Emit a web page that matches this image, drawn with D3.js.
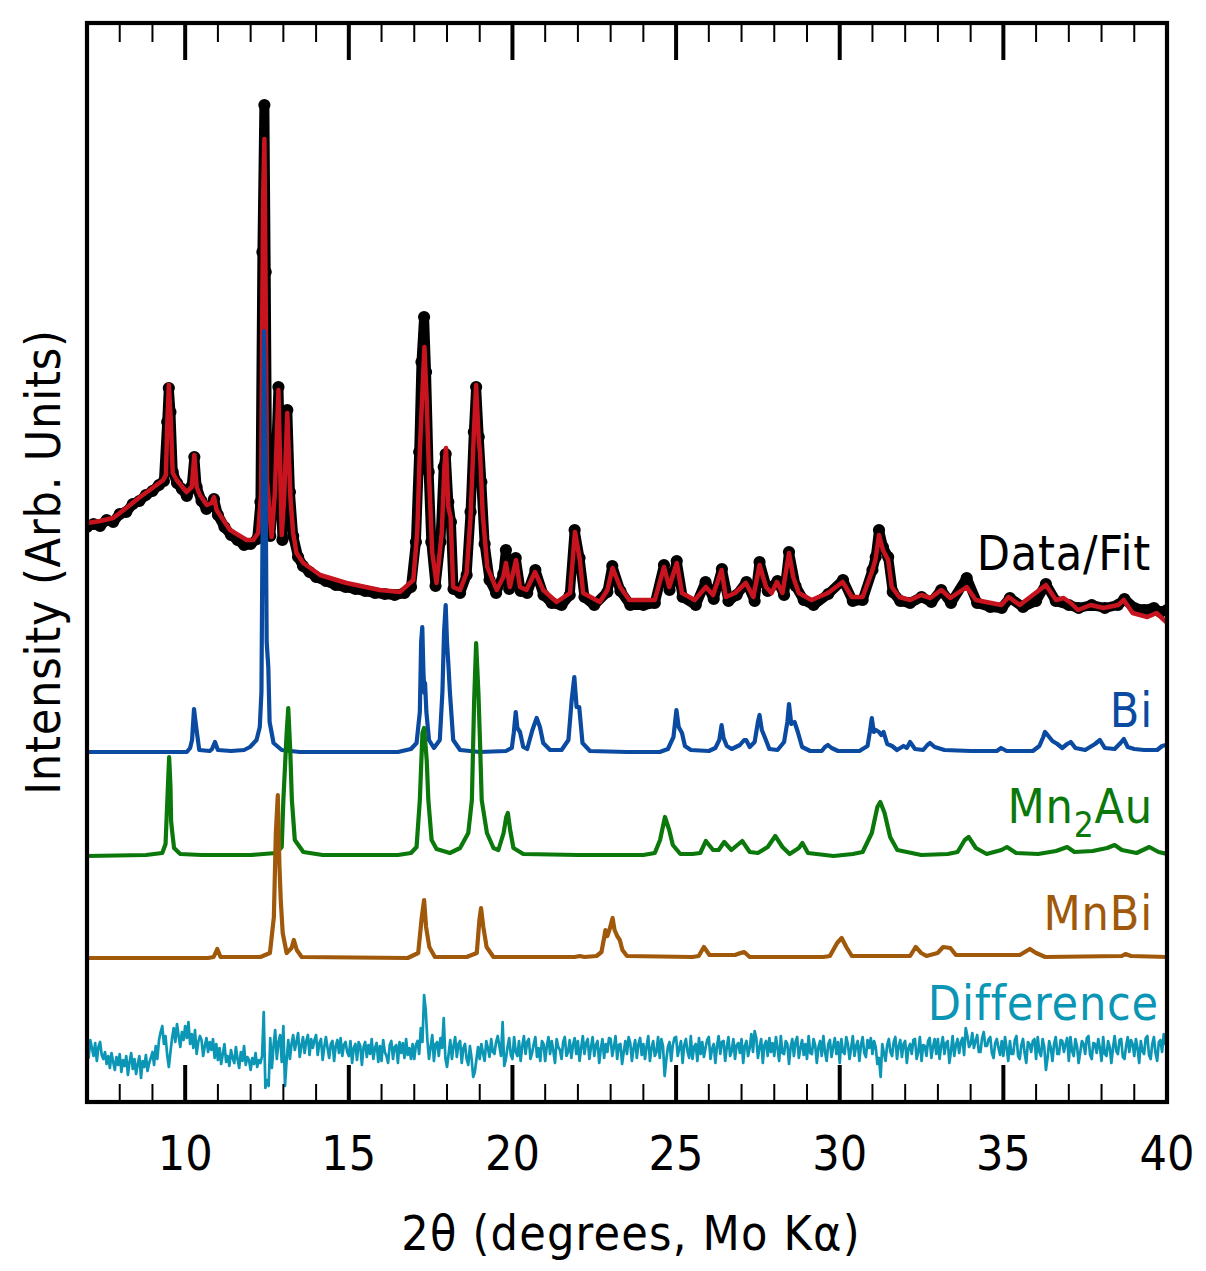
<!DOCTYPE html>
<html><head><meta charset="utf-8">
<script src="https://cdn.jsdelivr.net/npm/d3@7/dist/d3.min.js"></script>
<style>
body{margin:0;background:#fff}
svg{display:block}
text{font-family:"DejaVu Sans Condensed","DejaVu Sans",sans-serif;font-stretch:condensed}
</style>
</head><body>
<svg id="chart" width="1206" height="1271"></svg>
<script>
// ---------- axis / tick data ----------
const xDomain = [7, 40];
const xMajorTicks = [10, 15, 20, 25, 30, 35, 40];
const xMinorTicks = [8, 9, 11, 12, 13, 14, 16, 17, 18, 19, 21, 22, 23, 24, 26, 27, 28, 29, 31, 32, 33, 34, 36, 37, 38, 39];
const xTitle = "2θ (degrees, Mo Kα)";
const yTitle = "Intensity (Arb. Units)";

// ---------- series labels and vertical offsets (arb. units) ----------
const seriesNames = ["Data/Fit", "Bi", "Mn2Au", "MnBi", "Difference"];
const phaseOffsets = { Bi: 350, Mn2Au: 246, MnBi: 144, Difference: 52 };

// ---------- observed data [2θ, intensity] ----------
const dataPts = [[7.0,575],[7.2,578],[7.4,576],[7.6,582],[7.8,580],[8.0,588],[8.2,590],[8.4,598],[8.6,601],[8.8,607],[9.0,611],[9.2,617],[9.35,621],[9.45,680],[9.5,714],[9.55,690],[9.62,630],[9.75,619],[9.9,613],[10.05,606],[10.2,616],[10.28,645],[10.35,615],[10.5,601],[10.65,593],[10.8,596],[10.88,603],[11.0,587],[11.2,575],[11.4,567],[11.6,562],[11.8,557],[12.0,558],[12.2,563],[12.3,600],[12.36,850],[12.42,997],[12.46,830],[12.5,640],[12.6,566],[12.75,620],[12.85,715],[12.92,620],[12.97,562],[13.05,620],[13.12,692],[13.2,610],[13.3,566],[13.45,545],[13.6,536],[13.8,530],[14.0,525],[14.3,521],[14.6,517],[14.9,515],[15.2,513],[15.5,511],[15.8,509],[16.1,508],[16.4,507],[16.7,509],[16.9,515],[17.05,560],[17.15,650],[17.22,740],[17.30,785],[17.36,730],[17.44,630],[17.52,560],[17.65,516],[17.8,560],[17.9,635],[17.96,648],[18.04,600],[18.12,580],[18.2,513],[18.4,509],[18.6,527],[18.72,590],[18.82,670],[18.89,715],[18.97,665],[19.05,620],[19.15,558],[19.3,522],[19.5,509],[19.72,528],[19.8,552],[19.9,513],[20.1,544],[20.25,511],[20.45,509],[20.7,532],[20.95,507],[21.2,499],[21.5,497],[21.75,507],[21.9,572],[22.05,544],[22.2,505],[22.5,497],[22.9,510],[23.05,536],[23.3,511],[23.6,497],[24.0,497],[24.35,499],[24.63,537],[24.8,512],[25.02,541],[25.2,505],[25.6,497],[25.9,520],[26.15,503],[26.4,533],[26.6,501],[26.85,507],[27.15,520],[27.4,501],[27.55,540],[27.8,511],[28.1,521],[28.3,507],[28.45,550],[28.65,516],[28.9,502],[29.2,497],[29.65,508],[30.1,522],[30.4,501],[30.7,502],[31.0,532],[31.1,545],[31.2,572],[31.32,555],[31.48,545],[31.62,510],[31.85,501],[32.15,499],[32.5,505],[32.8,500],[33.1,512],[33.4,499],[33.88,524],[34.2,499],[34.6,495],[34.95,494],[35.2,504],[35.6,495],[36.0,501],[36.3,518],[36.6,501],[37.0,497],[37.3,494],[37.7,497],[38.1,494],[38.5,497],[38.7,503],[39.0,494],[39.3,492],[39.6,494],[39.8,490],[40.0,492]];

// ---------- Rietveld fit [2θ, intensity] ----------
const fitPts = [[7.0,579],[7.4,581],[7.8,584],[8.2,594],[8.62,605],[9.0,614],[9.33,622],[9.41,627],[9.45,675],[9.50,717],[9.56,682],[9.62,629],[9.74,622],[10.04,610],[10.20,615],[10.28,647],[10.35,615],[10.45,607],[10.66,597],[10.81,599],[10.88,605],[10.96,592],[11.37,572],[11.88,562],[12.08,562],[12.23,569],[12.32,609],[12.38,902],[12.42,963],[12.46,802],[12.50,622],[12.64,565],[12.74,609],[12.85,712],[12.92,609],[12.95,567],[13.02,602],[13.12,689],[13.22,602],[13.30,569],[13.40,549],[13.61,539],[14.12,527],[14.93,519],[15.95,512],[16.56,510],[16.97,522],[17.09,569],[17.17,652],[17.31,755],[17.38,702],[17.46,619],[17.55,549],[17.68,519],[17.84,569],[17.92,635],[17.97,654],[18.04,595],[18.11,585],[18.19,515],[18.40,512],[18.60,529],[18.72,585],[18.82,669],[18.89,717],[18.97,662],[19.01,649],[19.09,589],[19.23,535],[19.52,512],[19.72,525],[19.80,539],[19.92,515],[20.11,542],[20.23,515],[20.43,512],[20.69,530],[20.94,512],[21.35,500],[21.76,509],[21.91,570],[22.06,542],[22.16,509],[22.67,500],[22.90,512],[23.06,534],[23.29,515],[23.57,502],[24.35,502],[24.63,535],[24.79,515],[25.02,539],[25.18,509],[25.57,502],[25.91,515],[26.13,507],[26.39,532],[26.52,505],[26.80,509],[27.13,519],[27.36,505],[27.55,537],[27.75,515],[27.92,509],[28.08,520],[28.25,509],[28.45,549],[28.58,525],[28.75,509],[29.14,502],[29.64,509],[30.09,520],[30.37,505],[30.70,505],[30.98,530],[31.09,542],[31.20,567],[31.32,552],[31.48,542],[31.59,515],[31.82,505],[32.15,502],[32.49,507],[32.77,504],[33.10,512],[33.38,504],[33.88,515],[34.16,502],[34.94,497],[35.16,505],[35.50,497],[36.30,517],[36.61,502],[36.84,504],[37.06,499],[37.28,492],[37.67,497],[38.06,494],[38.51,497],[38.68,502],[38.95,489],[39.40,485],[39.68,489],[40.01,479]];

// ---------- phase patterns [2θ, intensity above own baseline] ----------
const biPts = [[7.0,0],[10.05,0],[10.15,4],[10.21,12],[10.27,43],[10.31,32],[10.36,19],[10.43,2],[10.75,1],[10.82,3],[10.91,10],[11.0,2],[11.4,1],[11.8,2],[11.98,5],[12.18,12],[12.28,25],[12.33,60],[12.37,250],[12.41,421],[12.45,300],[12.49,110],[12.54,85],[12.58,30],[12.70,9],[12.95,2],[13.5,0],[16.5,0],[16.9,3],[17.07,9],[17.17,40],[17.21,110],[17.245,125],[17.28,80],[17.31,59],[17.33,69],[17.37,40],[17.45,12],[17.60,4],[17.78,12],[17.86,60],[17.91,120],[17.96,147],[18.00,110],[18.04,89],[18.09,59],[18.19,12],[18.40,2],[19.0,0],[19.8,1],[19.98,4],[20.04,19],[20.10,40],[20.15,24],[20.23,20],[20.33,5],[20.45,3],[20.61,22],[20.74,34],[20.84,25],[20.94,9],[21.15,2],[21.5,2],[21.71,12],[21.81,52],[21.89,75],[21.96,45],[22.04,45],[22.14,9],[22.37,1],[23.5,0],[24.5,0],[24.75,3],[24.92,15],[25.01,42],[25.08,25],[25.18,19],[25.27,6],[25.45,2],[26.0,1],[26.2,4],[26.32,12],[26.39,27],[26.45,14],[26.55,6],[26.7,3],[26.95,7],[27.08,12],[27.14,12],[27.25,5],[27.4,10],[27.50,30],[27.55,37],[27.62,22],[27.72,14],[27.85,3],[28.1,2],[28.3,10],[28.40,30],[28.45,48],[28.52,28],[28.62,30],[28.72,20],[28.85,5],[29.1,1],[29.45,1],[29.55,5],[29.64,7],[29.75,4],[29.95,1],[30.6,1],[30.85,6],[30.92,20],[30.98,34],[31.04,20],[31.10,22],[31.20,20],[31.27,17],[31.34,20],[31.45,8],[31.60,6],[31.75,2],[31.95,6],[32.05,4],[32.15,10],[32.3,3],[32.55,2],[32.68,7],[32.76,9],[32.9,5],[33.2,2],[34.0,1],[34.8,1],[34.93,4],[35.1,1],[35.9,1],[36.1,6],[36.22,15],[36.27,20],[36.35,17],[36.5,11],[36.65,8],[36.8,4],[36.95,8],[37.06,10],[37.2,4],[37.5,2],[37.8,8],[37.95,12],[38.1,4],[38.4,3],[38.58,9],[38.68,13],[38.8,5],[39.0,3],[39.3,2],[39.7,2],[39.85,6],[39.97,7],[40,5]];

const mn2auPts = [[7.0,0],[8.8,1],[9.30,3],[9.40,12],[9.46,60],[9.51,99],[9.55,70],[9.57,35],[9.60,25],[9.66,8],[9.85,2],[10.5,1],[12.0,1],[12.78,3],[12.95,9],[13.00,56],[13.10,123],[13.15,148],[13.21,106],[13.26,56],[13.35,16],[13.61,4],[14.2,1],[16.5,1],[16.9,3],[17.07,9],[17.17,56],[17.25,123],[17.30,128],[17.38,96],[17.43,56],[17.53,16],[17.68,7],[18.09,3],[18.40,8],[18.65,23],[18.76,56],[18.83,156],[18.89,213],[18.96,163],[19.01,113],[19.06,56],[19.22,23],[19.42,8],[19.57,6],[19.73,23],[19.81,39],[19.86,43],[19.93,26],[20.03,8],[20.33,2],[22,1],[24.0,1],[24.35,3],[24.51,16],[24.66,39],[24.79,26],[24.90,11],[25.13,2],[25.50,2],[25.74,3],[25.91,15],[26.13,6],[26.30,6],[26.47,14],[26.69,6],[27.02,15],[27.25,4],[27.50,3],[27.80,9],[28.03,20],[28.25,9],[28.47,2],[28.75,8],[28.86,13],[29.03,3],[29.81,0],[30.40,2],[30.70,4],[30.98,23],[31.15,49],[31.24,54],[31.37,43],[31.54,19],[31.76,6],[32.49,1],[33.30,2],[33.60,4],[33.82,16],[33.94,19],[34.16,8],[34.49,2],[34.94,6],[35.11,9],[35.39,3],[36.06,2],[36.61,5],[36.95,9],[37.17,4],[37.73,5],[38.17,8],[38.40,11],[38.62,6],[39.07,3],[39.46,9],[39.74,4],[40.0,2]];

const mnbiPts = [[7.0,0],[10.7,0],[10.87,1],[10.98,9],[11.08,1],[12.3,1],[12.59,5],[12.71,41],[12.77,125],[12.83,163],[12.88,92],[12.92,58],[12.98,25],[13.10,5],[13.25,10],[13.32,18],[13.41,8],[13.56,1],[16.8,0],[17.12,5],[17.23,41],[17.30,58],[17.36,31],[17.46,11],[17.63,1],[18.6,1],[18.91,5],[18.99,38],[19.04,50],[19.11,31],[19.21,11],[19.42,1],[21.9,1],[22.06,2],[22.2,1],[22.57,2],[22.72,6],[22.80,20],[22.84,28],[22.90,22],[22.98,30],[23.06,40],[23.12,28],[23.20,22],[23.28,18],[23.36,8],[23.50,2],[25.5,1],[25.69,2],[25.85,11],[26.02,3],[26.80,3],[26.97,5],[27.08,6],[27.25,1],[29.5,1],[29.70,2],[29.92,15],[30.06,20],[30.20,11],[30.37,2],[32.15,2],[32.32,11],[32.49,5],[32.65,2],[32.99,5],[33.16,11],[33.38,10],[33.55,3],[35.50,3],[35.81,9],[36.00,5],[36.28,1],[38.62,2],[38.73,4],[38.90,2],[40,1]];

// ---------- difference curve: start, step and values (obs - calc), one row per degree ----------
const diffStart = 7.0;
const diffStep = 0.05;
const diffVals = [
 4,-8,10,2,-6,7,-11,3,8,-5,-9,-2,-14,-6,-18,-3,-12,-20,-7,-15,
 -4,-22,-10,-16,-6,-25,-12,-3,-19,-9,-24,-14,-6,-28,-11,-17,-5,-21,-13,-8,
 -2,-15,4,-9,10,18,24,6,14,-5,-17,-2,12,22,8,26,14,3,18,10,
 24,12,28,6,16,2,20,-4,8,14,10,-6,4,12,-2,8,0,11,-8,6,
 -10,2,-14,-4,6,-12,-6,-16,0,-8,-13,3,-9,-18,-2,-11,4,-15,-7,-10,
 -20,-8,-14,-3,-17,-10,-13,-6,38,-38,-30,-36,12,-18,4,20,-9,8,15,-12,
 24,-36,-10,10,-9,6,15,0,8,17,-7,4,13,-3,9,15,-5,11,2,10,
 15,-5,7,11,-10,3,13,2,-8,6,9,-11,4,10,-3,12,-6,5,8,-2,
 -6,9,-13,2,6,-10,8,4,-15,3,8,-7,5,-4,11,-9,2,7,-12,4,
 -11,10,-2,-6,-13,5,9,-9,3,5,-13,8,-3,7,-8,11,-5,2,-9,6,
 -9,5,9,-4,22,8,55,40,10,-9,3,15,-11,6,8,-6,12,2,32,-8,
 -17,-4,10,-9,4,13,-7,6,9,-13,2,6,-9,-15,4,-8,-27,-22,-9,3,
 -9,6,-3,-11,9,2,-7,11,-2,-4,8,14,4,-6,28,-16,-9,3,12,-5,
 -9,13,-2,-6,9,-11,4,14,-4,8,11,-9,-3,6,13,-7,2,-11,9,6,
 -11,4,13,-4,9,-1,-13,11,3,0,-9,8,13,-6,-2,10,-8,5,12,-4,
 9,-11,2,14,-4,7,11,-9,3,13,-6,5,9,-13,1,11,-8,6,-2,12,
 11,-6,3,14,-9,5,6,-14,-2,9,-4,13,7,-11,2,10,-8,6,12,-5,
 6,-9,4,14,-11,2,9,-6,-2,13,-8,11,4,-26,-10,3,8,-11,5,12,
 13,-6,2,9,-13,5,11,-2,-8,14,-9,3,6,-11,12,-4,8,-7,2,10,
 13,-9,1,6,-13,4,14,-4,8,9,-11,3,13,-6,-1,11,-9,5,7,-3,
 11,-13,4,9,-6,2,16,-2,19,12,-8,3,11,-13,5,9,-6,12,-2,7,
 -6,13,2,-11,14,-3,-4,9,6,-14,3,11,-6,8,13,-8,2,10,-5,6,
 -9,14,-3,-4,11,5,-13,3,9,-6,14,-2,-11,6,10,-7,3,12,-4,8,
 -13,11,-2,-4,13,6,-9,2,14,-6,4,9,-11,5,13,-3,-7,10,2,12,
 -4,9,3,-14,-8,-27,6,-3,-11,5,11,-2,-6,8,13,-9,4,10,-7,6,
 9,-13,2,6,-4,10,11,-9,-2,13,-11,5,4,-6,9,12,-8,3,11,-4,
 11,-9,4,13,-4,7,9,-13,-1,14,-6,5,11,-3,8,12,-5,22,14,3,
 6,17,2,9,15,-2,-2,12,18,4,4,11,13,-3,-8,7,11,2,-5,9,
 -6,13,2,-11,9,-4,-4,10,14,-6,-9,5,11,-3,-13,8,6,-2,9,11,
 -9,13,-2,-6,11,3,-20,-8,9,2,-11,6,13,-4,-4,10,9,-2,6,12,
 -11,13,-1,-6,11,4,-13,-2,9,6,-4,12,14,-5,-9,7,6,-3,11,2,
 -11,13,-4,-6,9,3,-13,2,14,-1,-4,10,11,-7,-9,4,13,-2,10,6,
 -6,11,2,-13,9,-1,-4,12,14,-5,-9,6,13,-3,-11,8,10,-2,16,6,
 4];

// ---------- colours ----------
const colors = { data: "#000000", fit: "#c8141e", Bi: "#0a4aa0", Mn2Au: "#0a780a", MnBi: "#a0580a", Difference: "#0a96b4" };

// ================= drawing =================
const W = 1206, H = 1271;
const margin = { left: 87, right: W - 1167, top: 23, bottom: H - 1102 };
const svg = d3.select("#chart");
const x = d3.scaleLinear().domain(xDomain).range([margin.left, W - margin.right]);
const y = d3.scaleLinear().domain([0, 1079]).range([H - margin.bottom, margin.top]);

svg.append("defs").append("clipPath").attr("id", "clip")
  .append("rect").attr("x", margin.left).attr("y", margin.top)
  .attr("width", W - margin.left - margin.right).attr("height", H - margin.top - margin.bottom);

const plot = svg.append("g").attr("clip-path", "url(#clip)");

const lineAbs = d3.line().x(d => x(d[0])).y(d => y(d[1]));
const lineOff = off => d3.line().x(d => x(d[0])).y(d => y(d[1] + off));

// data: thick band + open circles
plot.append("path").datum(dataPts).attr("d", lineAbs)
  .attr("fill", "none").attr("stroke", colors.data).attr("stroke-width", 10).attr("stroke-linejoin", "round");
plot.append("g").selectAll("circle").data(dataPts).join("circle")
  .attr("cx", d => x(d[0])).attr("cy", d => y(d[1])).attr("r", 4.8)
  .attr("fill", "none").attr("stroke", colors.data).attr("stroke-width", 2.6);

// fit
plot.append("path").datum(fitPts).attr("d", lineAbs)
  .attr("fill", "none").attr("stroke", colors.fit).attr("stroke-width", 4.5).attr("stroke-linejoin", "round");

// phases
[["Bi", biPts], ["Mn2Au", mn2auPts], ["MnBi", mnbiPts]].forEach(([name, pts]) => {
  plot.append("path").datum(pts).attr("d", lineOff(phaseOffsets[name]))
    .attr("fill", "none").attr("stroke", colors[name]).attr("stroke-width", 4.2).attr("stroke-linejoin", "round");
});

// difference
const diffPts = diffVals.map((v, i) => [diffStart + i * diffStep, v]);
plot.append("path").datum(diffPts).attr("d", lineOff(phaseOffsets.Difference))
  .attr("fill", "none").attr("stroke", colors.Difference).attr("stroke-width", 2.7).attr("stroke-linejoin", "round");

// frame
const frame = svg.append("g");
frame.append("rect").attr("x", margin.left).attr("y", margin.top)
  .attr("width", W - margin.left - margin.right).attr("height", H - margin.top - margin.bottom)
  .attr("fill", "none").attr("stroke", "#000").attr("stroke-width", 4.2);

// ticks (inward, top and bottom)
const yb = H - margin.bottom, yt = margin.top;
const majInner = xMajorTicks.filter(t => t < xDomain[1]);
frame.append("g").selectAll("line").data(majInner).join("line")
  .attr("x1", d => x(d)).attr("x2", d => x(d)).attr("y1", yb).attr("y2", yb - 37)
  .attr("stroke", "#000").attr("stroke-width", 4);
frame.append("g").selectAll("line").data(majInner).join("line")
  .attr("x1", d => x(d)).attr("x2", d => x(d)).attr("y1", yt).attr("y2", yt + 37)
  .attr("stroke", "#000").attr("stroke-width", 4);
frame.append("g").selectAll("line").data(xMinorTicks).join("line")
  .attr("x1", d => x(d)).attr("x2", d => x(d)).attr("y1", yb).attr("y2", yb - 18)
  .attr("stroke", "#000").attr("stroke-width", 2);
frame.append("g").selectAll("line").data(xMinorTicks).join("line")
  .attr("x1", d => x(d)).attr("x2", d => x(d)).attr("y1", yt).attr("y2", yt + 19)
  .attr("stroke", "#000").attr("stroke-width", 2);

// tick labels
svg.append("g").selectAll("text").data(xMajorTicks).join("text")
  .attr("x", d => x(d)).attr("y", 1170).attr("text-anchor", "middle")
  .attr("font-size", 48).attr("fill", "#000").text(d => d);

// axis titles
svg.append("text").attr("x", 631).attr("y", 1250).attr("text-anchor", "middle")
  .attr("font-size", 48).attr("letter-spacing", 1.2).attr("fill", "#000").text(xTitle);
svg.append("text").attr("transform", "translate(60,562) rotate(-90)").attr("text-anchor", "middle")
  .attr("font-size", 48).attr("letter-spacing", 0.8).attr("fill", "#000").text(yTitle);

// series labels
const lab = svg.append("g").attr("font-size", 48).attr("letter-spacing", 0.8).attr("text-anchor", "end");
lab.append("text").attr("x", 1151).attr("y", 570).attr("fill", "#000").text(seriesNames[0]);
lab.append("text").attr("x", 1153).attr("y", 727).attr("fill", colors.Bi).text(seriesNames[1]);
const mt = lab.append("text").attr("x", 1153).attr("y", 823).attr("fill", colors.Mn2Au);
mt.append("tspan").text("Mn");
mt.append("tspan").attr("font-size", 35).attr("dy", 14).text("2");
mt.append("tspan").attr("dy", -14).text("Au");
lab.append("text").attr("x", 1153).attr("y", 930).attr("fill", colors.MnBi).text(seriesNames[3]);
lab.append("text").attr("x", 1159).attr("y", 1020).attr("fill", colors.Difference).text(seriesNames[4]);
</script>
</body></html>
